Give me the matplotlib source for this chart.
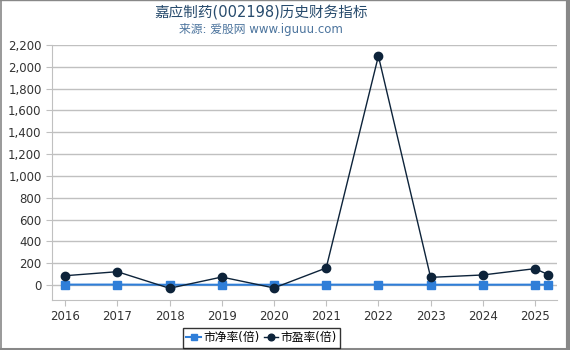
import matplotlib.pyplot as plt
from matplotlib.lines import Line2D

plt.rcParams["font.family"] = ["DejaVu Sans", "Noto Sans CJK SC"]

# data
years = [2016, 2017, 2018, 2019, 2020, 2021, 2022, 2023, 2024, 2025, 2025.25]
pb = [3.5, 3.8, 2.1, 2.5, 2.3, 3.0, 3.2, 2.4, 2.6, 3.1, 3.0]
pe = [85, 122, -30, 73, -27, 156, 2099, 70, 92, 150, 95]
tick_years = [2016, 2017, 2018, 2019, 2020, 2021, 2022, 2023, 2024, 2025]
y_ticks = list(range(0, 2201, 200))

fig = plt.figure(figsize=(5.7, 3.5), dpi=100)
ax = fig.add_axes([52 / 570, 50 / 350, 505 / 570, 255 / 350])

ax.plot(years, pb, color="#2f7ed8", lw=1.5, marker="s", ms=6,
        label="市净率(倍)", zorder=3)
ax.plot(years, pe, color="#0d233a", lw=1, marker="o", ms=6,
        label="市盈率(倍)", zorder=4)

ax.set_xlim(2015.75, 2025.42)
ax.set_ylim(-137.5, 2200)
ax.set_xticks(tick_years)
ax.set_xticklabels([str(y) for y in tick_years])
ax.set_yticks(y_ticks)
ax.set_yticklabels([f"{v:,}" for v in y_ticks])

for v in y_ticks:
    ax.axhline(v, color="#c0c0c0", lw=1, zorder=1)

for s in ["top", "right"]:
    ax.spines[s].set_visible(False)
for s in ["left", "bottom"]:
    ax.spines[s].set_color("#c0c0c0")
ax.tick_params(axis="both", colors="#c0c0c0", labelcolor="#333333",
               labelsize=8.5, length=4)

fig.text(0.458, 0.965, "嘉应制药(002198)历史财务指标", ha="center", va="center",
         fontsize=10.5, color="#274b6d")
fig.text(0.458, 0.917, "来源: 爱股网 www.iguuu.com", ha="center", va="center",
         fontsize=8.5, color="#4d759e")

leg = fig.legend(loc="center", bbox_to_anchor=(0.459, 0.035), ncol=2,
                 fontsize=8.5, frameon=True, fancybox=False, handlelength=1.2,
                 handletextpad=0.2, columnspacing=0.4, borderpad=0.3,
                 markerscale=0.8)
leg.get_frame().set_edgecolor("black")
leg.get_frame().set_linewidth(1)

# outer frame: thin top/left, thicker right/bottom
frame_color = "#888888"
fig.add_artist(Line2D([0, 1], [0.999, 0.999], transform=fig.transFigure,
                      color=frame_color, lw=1))
fig.add_artist(Line2D([0.001, 0.001], [0, 1], transform=fig.transFigure,
                      color=frame_color, lw=1.2))
fig.add_artist(Line2D([0.996, 0.996], [0, 1], transform=fig.transFigure,
                      color=frame_color, lw=3))
fig.add_artist(Line2D([0, 1], [0.004, 0.004], transform=fig.transFigure,
                      color=frame_color, lw=2.2))

fig.savefig("out.png", dpi=100)
